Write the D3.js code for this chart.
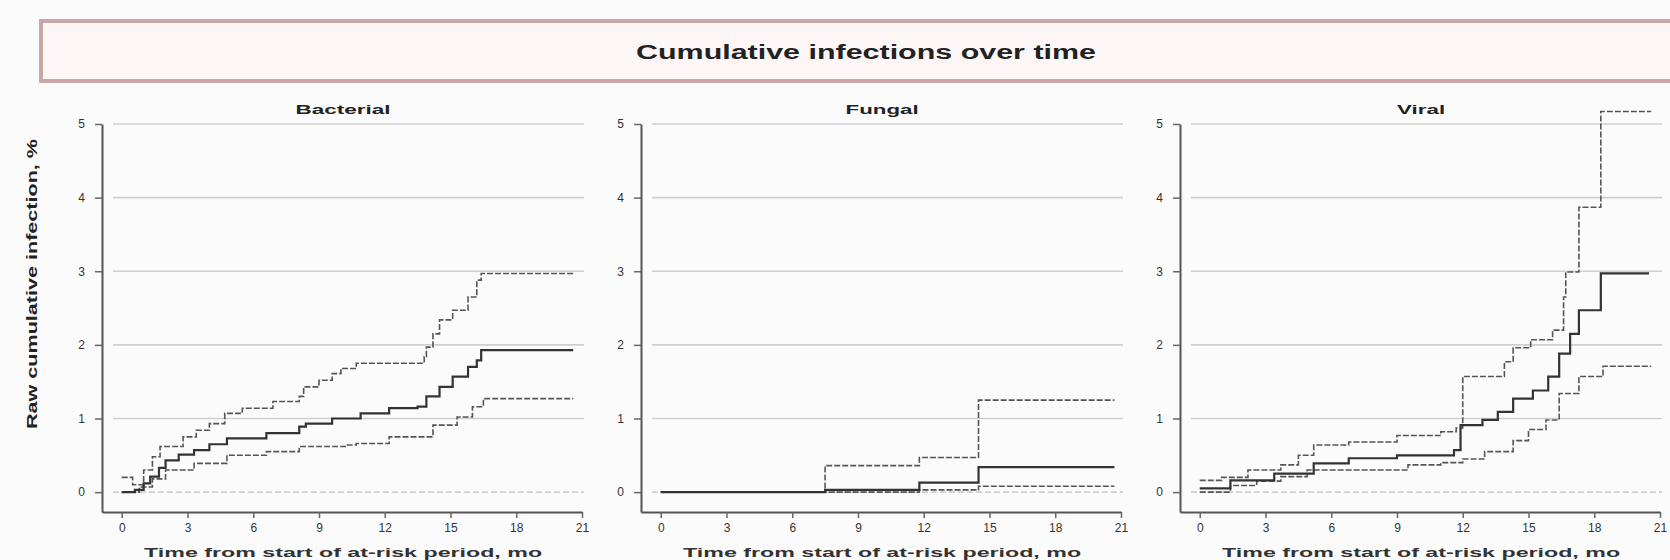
<!DOCTYPE html>
<html>
<head>
<meta charset="utf-8">
<script src="https://cdn.jsdelivr.net/npm/d3@7"></script>
<style>
  body { margin: 0; background: #fcfbfb; font-family: "Liberation Sans", Arial, sans-serif; }
</style>
</head>
<body>
<script>
// tick values
const monthTicks = [0, 3, 6, 9, 12, 15, 18, 21];
const pctTicks = [0, 1, 2, 3, 4, 5];
const panelNames = ["Bacterial", "Fungal", "Viral"];

// [month, cumulative %] step points
const bacterialEst = [[0,0],[0.6,0.03],[1.0,0.12],[1.3,0.21],[1.7,0.33],[2.0,0.43],[2.6,0.51],[3.3,0.57],[4.0,0.65],[4.8,0.73],[6.6,0.80],[8.1,0.89],[8.4,0.93],[9.6,1.00],[10.9,1.07],[12.2,1.14],[13.5,1.16],[13.9,1.30],[14.5,1.43],[15.1,1.57],[15.8,1.70],[16.2,1.79],[16.4,1.93],[20.6,1.93]];
const bacterialUpper = [[0,0.2],[0.5,0.1],[1.0,0.3],[1.4,0.48],[1.75,0.62],[2.8,0.75],[3.4,0.84],[4.0,0.93],[4.7,1.07],[5.5,1.14],[6.9,1.23],[8.1,1.30],[8.3,1.43],[9.0,1.52],[9.6,1.61],[10.0,1.68],[10.7,1.75],[13.8,1.84],[13.9,1.97],[14.2,2.15],[14.5,2.34],[15.1,2.47],[15.8,2.65],[16.2,2.88],[16.4,2.97],[20.6,2.97]];
const bacterialLower = [[0,0],[0.8,0.07],[1.4,0.18],[2.0,0.30],[3.3,0.39],[4.8,0.50],[6.6,0.55],[8.1,0.62],[10.3,0.64],[10.7,0.66],[12.2,0.75],[14.2,0.91],[15.3,1.02],[16.0,1.16],[16.5,1.27],[20.6,1.27]];

const fungalEst = [[0,0],[7.5,0.03],[11.8,0.13],[14.5,0.34],[20.7,0.34]];
const fungalUpper = [[0,0],[7.5,0.36],[11.8,0.47],[14.5,1.25],[20.7,1.25]];
const fungalLower = [[0,0],[11.8,0.03],[14.5,0.08],[20.7,0.08]];

const viralEst = [[0,0.05],[1.4,0.16],[3.4,0.25],[5.2,0.39],[6.8,0.46],[9.0,0.50],[11.6,0.57],[11.9,0.91],[12.9,0.98],[13.6,1.09],[14.3,1.27],[15.2,1.38],[15.9,1.57],[16.4,1.88],[16.9,2.15],[17.3,2.47],[18.3,2.97],[20.5,2.97]];
const viralUpper = [[0,0.16],[1.0,0.20],[2.2,0.30],[3.7,0.37],[4.5,0.50],[5.2,0.64],[6.8,0.68],[9.0,0.77],[11.0,0.82],[11.7,0.87],[12.0,1.57],[13.9,1.77],[14.3,1.96],[15.1,2.07],[16.1,2.20],[16.6,2.65],[16.7,2.99],[17.3,3.87],[18.3,5.17],[20.6,5.17]];
const viralLower = [[0,0],[1.4,0.09],[2.6,0.15],[3.7,0.21],[4.9,0.30],[9.5,0.37],[11.0,0.40],[12.0,0.45],[13.0,0.55],[14.3,0.70],[15.0,0.85],[15.8,0.98],[16.4,1.34],[17.3,1.57],[18.4,1.71],[20.6,1.71]];

const panelSeries = [
  [bacterialEst, bacterialUpper, bacterialLower],
  [fungalEst, fungalUpper, fungalLower],
  [viralEst, viralUpper, viralLower]
];

const width = 1670, height = 560;
const svg = d3.select("body").append("svg")
  .attr("width", width)
  .attr("height", height);

// title box
svg.append("rect")
  .attr("x", 41).attr("y", 21)
  .attr("width", 1660).attr("height", 60)
  .attr("fill", "#fdf6f6")
  .attr("stroke", "#c9a7a7")
  .attr("stroke-width", 4);

svg.append("text")
  .attr("x", 866).attr("y", 54)
  .attr("text-anchor", "middle")
  .attr("dominant-baseline", "middle")
  .attr("font-size", 20)
  .attr("font-weight", "bold")
  .attr("fill", "#222")
  .attr("textLength", 460)
  .attr("lengthAdjust", "spacingAndGlyphs")
  .text("Cumulative infections over time");

// y axis label
svg.append("text")
  .attr("transform", "translate(33,284) rotate(-90)")
  .attr("text-anchor", "middle")
  .attr("dominant-baseline", "middle")
  .attr("font-size", 15)
  .attr("font-weight", "bold")
  .attr("fill", "#222")
  .attr("textLength", 290)
  .attr("lengthAdjust", "spacingAndGlyphs")
  .text("Raw cumulative infection, %");

const axisLefts = [102, 641, 1180];
const titleLengths = [95, 73, 48];
const plotW = 480;

panelNames.forEach((name, i) => {
  const ax = axisLefts[i];
  const x = d3.scaleLinear().domain([-0.9, 21]).range([ax, ax + plotW]);
  const y = d3.scaleLinear().domain([-0.27, 5]).range([512, 124]);
  const g = svg.append("g");

  // gridlines
  g.selectAll(".grid")
    .data(pctTicks)
    .enter().append("line")
    .attr("x1", x(-0.4)).attr("x2", x(21) + 2)
    .attr("y1", d => y(d)).attr("y2", d => y(d))
    .attr("stroke", "#cfcfcf")
    .attr("stroke-width", 1.6)
    .attr("stroke-dasharray", d => d === 0 ? "6,3" : null);

  // axes
  const yAxis = g.append("g")
    .attr("transform", `translate(${ax},0)`)
    .call(d3.axisLeft(y).tickValues(pctTicks).tickFormat(d3.format("d"))
      .tickSize(7).tickSizeOuter(0).tickPadding(10));
  const xAxis = g.append("g")
    .attr("transform", "translate(0,512)")
    .call(d3.axisBottom(x).tickValues(monthTicks).tickFormat(d3.format("d"))
      .tickSize(6).tickSizeOuter(0).tickPadding(5));
  [yAxis, xAxis].forEach(a => {
    a.select(".domain").attr("stroke", "#555").attr("stroke-width", 2);
    a.selectAll(".tick line").attr("stroke", "#666").attr("stroke-width", 1.5);
    a.selectAll(".tick text").attr("font-size", 12).attr("fill", "#333")
      .attr("font-family", "'Liberation Sans', Arial, sans-serif");
  });

  // panel title
  g.append("text")
    .attr("x", x(10.1)).attr("y", 114)
    .attr("text-anchor", "middle")
    .attr("font-size", 13)
    .attr("font-weight", "bold")
    .attr("fill", "#222")
    .attr("textLength", titleLengths[i])
    .attr("lengthAdjust", "spacingAndGlyphs")
    .text(name);

  // x axis label
  g.append("text")
    .attr("x", x(10.1)).attr("y", 557)
    .attr("text-anchor", "middle")
    .attr("font-size", 12)
    .attr("font-weight", "bold")
    .attr("fill", "#333")
    .attr("textLength", 398)
    .attr("lengthAdjust", "spacingAndGlyphs")
    .text("Time from start of at-risk period, mo");

  // curves
  const line = d3.line()
    .x(d => x(d[0]))
    .y(d => y(d[1]))
    .curve(d3.curveStepAfter);

  const [est, upper, lower] = panelSeries[i];
  [upper, lower].forEach(s => {
    g.append("path")
      .datum(s)
      .attr("d", line)
      .attr("fill", "none")
      .attr("stroke", "#555")
      .attr("stroke-width", 1.6)
      .attr("stroke-dasharray", "6,2");
  });
  g.append("path")
    .datum(est)
    .attr("d", line)
    .attr("fill", "none")
    .attr("stroke", "#333")
    .attr("stroke-width", 2.2);
});
</script>
</body>
</html>
